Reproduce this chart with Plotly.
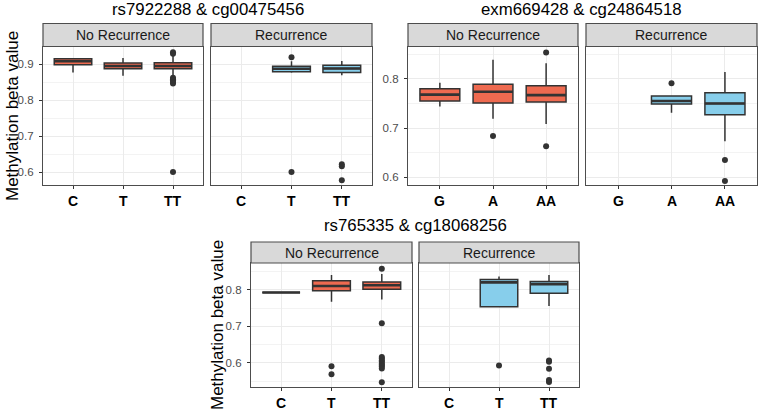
import plotly.graph_objects as go

W, H = 758, 414

# ---------------- data ----------------
panel_titles = ["rs7922288 & cg00475456", "exm669428 & cg24864518", "rs765335 & cg18068256"]
facet_labels = ["No Recurrence", "Recurrence"]
genotypes_p1 = ["C", "T", "TT"]
genotypes_p2 = ["G", "A", "AA"]
genotypes_p3 = ["C", "T", "TT"]
y_title = "Methylation beta value"

# Panel 1: rs7922288 & cg00475456
p1_nr_x = ["C", "T", "TT"]
p1_nr_q1 = [0.898, 0.887, 0.887]
p1_nr_med = [0.908, 0.895, 0.895]
p1_nr_q3 = [0.915, 0.903, 0.904]
p1_nr_lo = [0.877, 0.868, 0.870]
p1_nr_hi = [0.915, 0.917, 0.925]
p1_nr_out_x = ["TT", "TT", "TT", "TT", "TT", "TT", "TT", "TT"]
p1_nr_out_y = [0.933, 0.929, 0.862, 0.858, 0.855, 0.850, 0.846, 0.600]

p1_r_x = ["T", "TT"]
p1_r_q1 = [0.879, 0.877]
p1_r_med = [0.887, 0.888]
p1_r_q3 = [0.894, 0.897]
p1_r_lo = [0.876, 0.869]
p1_r_hi = [0.908, 0.909]
p1_r_out_x = ["T", "T", "TT", "TT", "TT"]
p1_r_out_y = [0.919, 0.600, 0.622, 0.616, 0.577]

# Panel 2: exm669428 & cg24864518
p2_nr_x = ["G", "A", "AA"]
p2_nr_q1 = [0.755, 0.751, 0.753]
p2_nr_med = [0.768, 0.774, 0.767]
p2_nr_q3 = [0.780, 0.789, 0.786]
p2_nr_lo = [0.744, 0.719, 0.708]
p2_nr_hi = [0.792, 0.839, 0.832]
p2_nr_out_x = ["A", "AA", "AA"]
p2_nr_out_y = [0.684, 0.854, 0.663]

p2_r_x = ["A", "AA"]
p2_r_q1 = [0.749, 0.727]
p2_r_med = [0.755, 0.750]
p2_r_q3 = [0.765, 0.772]
p2_r_lo = [0.731, 0.673]
p2_r_hi = [0.765, 0.814]
p2_r_out_x = ["A", "AA", "AA"]
p2_r_out_y = [0.791, 0.635, 0.592]

# Panel 3: rs765335 & cg18068256
p3_nr_x = ["C", "T", "TT"]
p3_nr_q1 = [0.793, 0.798, 0.802]
p3_nr_med = [0.793, 0.811, 0.813]
p3_nr_q3 = [0.793, 0.825, 0.822]
p3_nr_lo = [0.793, 0.768, 0.774]
p3_nr_hi = [0.793, 0.841, 0.844]
p3_nr_out_x = ["T", "T"] + ["TT"] * 11
p3_nr_out_y = [0.591, 0.569, 0.858, 0.709, 0.616, 0.612, 0.607, 0.603,
               0.598, 0.594, 0.590, 0.585, 0.547]

p3_r_x = ["T", "TT"]
p3_r_q1 = [0.754, 0.791]
p3_r_med = [0.821, 0.816]
p3_r_q3 = [0.829, 0.823]
p3_r_lo = [0.754, 0.756]
p3_r_hi = [0.837, 0.841]
p3_r_out_x = ["T", "TT", "TT", "TT", "TT", "TT"]
p3_r_out_y = [0.593, 0.607, 0.603, 0.584, 0.553, 0.548]

# ---------------- styling ----------------
RED = "#EE6A50"
BLUE = "#87CEEB"
DARK = "#333333"
BORDER = "#4D4D4D"
GRID = "#EBEBEB"
MINOR = "#F3F3F3"
STRIP = "#D9D9D9"
FONT = "Liberation Sans"


def px(x):
    return x / W


def py(y):
    return 1 - y / H


# layout geometry (pixels)
facet_boxes = [  # (x0, x1, strip_top, plot_top, plot_bottom)
    (43, 203, 23.5, 46.5, 185),
    (211, 372, 23.5, 46.5, 185),
    (408, 578, 23.5, 46.5, 185),
    (586, 757, 23.5, 46.5, 185),
    (251, 412, 242, 263, 387),
    (419, 579, 242, 263, 387),
]
y_ranges = [[0.564, 0.949], [0.584, 0.866], [0.534, 0.874]]

fig = go.Figure()

panels = [
    (genotypes_p1, 0,
     (p1_nr_x, p1_nr_q1, p1_nr_med, p1_nr_q3, p1_nr_lo, p1_nr_hi, p1_nr_out_x, p1_nr_out_y),
     (p1_r_x, p1_r_q1, p1_r_med, p1_r_q3, p1_r_lo, p1_r_hi, p1_r_out_x, p1_r_out_y)),
    (genotypes_p2, 1,
     (p2_nr_x, p2_nr_q1, p2_nr_med, p2_nr_q3, p2_nr_lo, p2_nr_hi, p2_nr_out_x, p2_nr_out_y),
     (p2_r_x, p2_r_q1, p2_r_med, p2_r_q3, p2_r_lo, p2_r_hi, p2_r_out_x, p2_r_out_y)),
    (genotypes_p3, 2,
     (p3_nr_x, p3_nr_q1, p3_nr_med, p3_nr_q3, p3_nr_lo, p3_nr_hi, p3_nr_out_x, p3_nr_out_y),
     (p3_r_x, p3_r_q1, p3_r_med, p3_r_q3, p3_r_lo, p3_r_hi, p3_r_out_x, p3_r_out_y)),
]

layout_axes = {}
shapes = []
annotations = []

idx = 0
for cats, pi, nr, r in panels:
    for fi, (data, color) in enumerate([(nr, RED), (r, BLUE)]):
        idx += 1
        xa = "x" if idx == 1 else f"x{idx}"
        ya = "y" if idx == 1 else f"y{idx}"
        xk = "xaxis" if idx == 1 else f"xaxis{idx}"
        yk = "yaxis" if idx == 1 else f"yaxis{idx}"
        bx, q1, med, q3, lo, hi, ox, oy = data
        fig.add_trace(go.Box(
            x=bx, q1=q1, median=med, q3=q3, lowerfence=lo, upperfence=hi,
            fillcolor=color, line=dict(color=DARK, width=1.5), width=0.75,
            whiskerwidth=0, boxpoints=False, hoverinfo="skip",
            xaxis=xa, yaxis=ya, showlegend=False))
        # thicker median bar
        fig.add_trace(go.Box(
            x=bx, q1=med, median=med, q3=med, lowerfence=med, upperfence=med,
            fillcolor="rgba(0,0,0,0)", line=dict(color=DARK, width=2.6), width=0.75,
            whiskerwidth=0, boxpoints=False, hoverinfo="skip",
            xaxis=xa, yaxis=ya, showlegend=False))
        fig.add_trace(go.Scatter(
            x=ox, y=oy, mode="markers",
            marker=dict(size=6, color=DARK), hoverinfo="skip",
            xaxis=xa, yaxis=ya, showlegend=False))

        x0, x1, st, pt, pb = facet_boxes[idx - 1]
        layout_axes[xk] = dict(
            domain=[px(x0), px(x1)], anchor=ya, type="category",
            categoryorder="array", categoryarray=cats, range=[-0.6, 2.6],
            showgrid=True, gridcolor=GRID, gridwidth=1.3, zeroline=False,
            showline=True, mirror=True, linecolor=BORDER, linewidth=1.2,
            ticks="outside", ticklen=3, tickcolor=DARK, tickwidth=1,
            showticklabels=False,
        )
        layout_axes[yk] = dict(
            domain=[py(pb), py(pt)], anchor=xa, range=y_ranges[pi],
            tick0=0, dtick=0.1, tickformat=".1f",
            showgrid=True, gridcolor=GRID, gridwidth=1.3, zeroline=False,
            minor=dict(dtick=0.05, showgrid=True, gridcolor=MINOR, gridwidth=0.8),
            showline=True, mirror=True, linecolor=BORDER, linewidth=1.2,
            ticks="outside" if fi == 0 else "", ticklen=3, tickcolor=DARK,
            showticklabels=(fi == 0), ticklabelstandoff=3,
            tickfont=dict(family=FONT, size=11.5, color="#4D4D4D"),
        )
        # category labels placed through the x axis
        for c in cats:
            annotations.append(dict(text=c, xref=xa, yref="paper", x=c,
                                    y=py(pb + 16), xanchor="center", yanchor="middle",
                                    showarrow=False,
                                    font=dict(family=FONT, size=14, color="black",
                                              weight="bold")))
        # strip
        shapes.append(dict(type="rect", xref="paper", yref="paper",
                           x0=px(x0), x1=px(x1), y0=py(pt), y1=py(st),
                           fillcolor=STRIP, line=dict(color=BORDER, width=1.2),
                           layer="above"))
        annotations.append(dict(text=facet_labels[fi], xref="paper", yref="paper",
                                x=px((x0 + x1) / 2), y=py((st + pt) / 2),
                                xanchor="center", yanchor="middle", showarrow=False,
                                font=dict(family=FONT, size=14, color="#1A1A1A")))

# panel titles
for t, (cx, cy) in zip(panel_titles, [(208, 9.5), (581, 9.5), (415, 225)]):
    annotations.append(dict(text=t, xref="paper", yref="paper", x=px(cx), y=py(cy),
                            xanchor="center", yanchor="middle", showarrow=False,
                            font=dict(family=FONT, size=16.8, color="black")))
# y-axis titles
for (cx, cy) in [(12, 116), (217, 325)]:
    annotations.append(dict(text=y_title, xref="paper", yref="paper", x=px(cx), y=py(cy),
                            xanchor="center", yanchor="middle", textangle=-90,
                            showarrow=False,
                            font=dict(family=FONT, size=17, color="black")))

fig.update_layout(
    width=W, height=H, margin=dict(l=0, r=0, t=0, b=0),
    paper_bgcolor="white", plot_bgcolor="white",
    showlegend=False, boxmode="overlay",
    font=dict(family=FONT),
    shapes=shapes, annotations=annotations,
    **layout_axes,
)

fig.write_html("out.html",
               config={"displayModeBar": False},
               post_script="document.body.style.margin='0';document.body.style.overflow='hidden';")
